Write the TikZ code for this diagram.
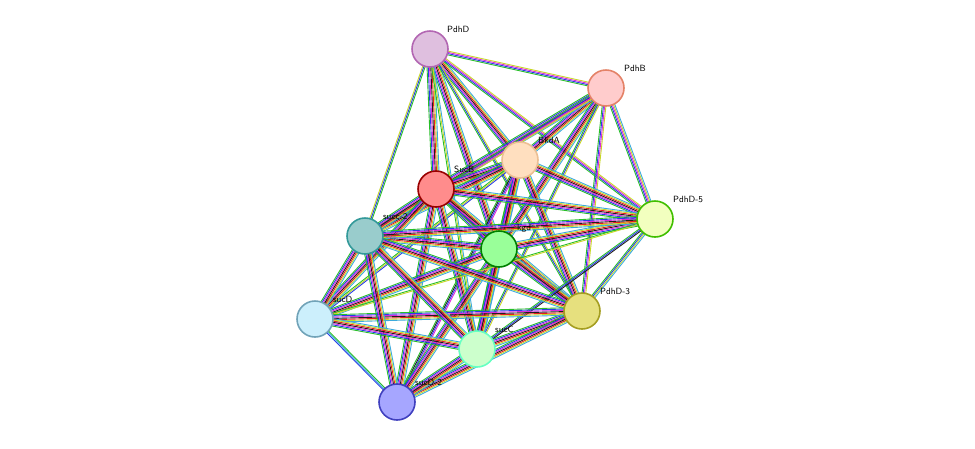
\documentclass[tikz,border=0pt]{standalone}
\usetikzlibrary{calc}
\begin{document}
\begin{tikzpicture}[x=1pt,y=-1pt,
  prot/.style={circle,draw,line width=1.6pt,minimum size=36pt,inner sep=0pt},
  lab/.style={font=\sffamily\fontsize{9}{10}\selectfont,anchor=south west,inner sep=1pt}]
\definecolor{eg}{RGB}{40,190,40}\definecolor{eb}{RGB}{40,60,230}\definecolor{em}{RGB}{220,40,220}
\definecolor{ek}{RGB}{30,30,30}\definecolor{er}{RGB}{230,30,30}\definecolor{ey}{RGB}{200,215,40}
\definecolor{ec}{RGB}{60,170,220}
\useasboundingbox (0,0) rectangle (975,448);
\foreach \n/\x/\y in {pdhd/430/49,pdhb/606/88,bkda/520/160,sucb/436/189,pd5/655/219,sc2/365/236,kgd/499/249,pd3/582/311,sucd/315/319,succ/477/349,sd2/397/402}
  \coordinate (\n) at (\x,\y);
\newcommand\bund[3]{%
  \edef\lst{#3}%
  \foreach \c [count=\i] in \lst {\xdef\nn{\i}}%
  \foreach \c [count=\i] in \lst {%
    \pgfmathsetmacro\o{(\i-(\nn+1)/2)*1.25}%
    \draw[\c,line width=0.9pt] ($(#1)!\o pt!90:(#2)$) -- ($(#2)!\o pt!-90:(#1)$);}}
\def\F{eg,eb,em,ek,er,ey,ec}
\def\M{eg,eb,em,ey}
% edges
\bund{pdhd}{pdhb}{\M}\bund{pdhd}{bkda}{\F}\bund{pdhd}{sucb}{\F}\bund{pdhd}{kgd}{\F}
\bund{pdhd}{sc2}{ey,eb,eg}\bund{pdhd}{pd5}{eg,eb,em,ey}\bund{pdhd}{pd3}{eg,eb,ey}\bund{pdhd}{succ}{eg,ey,ec}
\bund{pdhb}{bkda}{\F}\bund{pdhb}{sucb}{\F}\bund{pdhb}{kgd}{\F}\bund{pdhb}{pd5}{\M,ec}\bund{pdhb}{pd3}{eg,eb,em,ey}
\bund{pdhb}{sc2}{eg,eb,em,ey}\bund{pdhb}{succ}{eg,eb,ey}
\bund{bkda}{sucb}{\F}\bund{bkda}{kgd}{\F}\bund{bkda}{pd5}{\F}\bund{bkda}{pd3}{\F}\bund{bkda}{sc2}{\F}
\bund{bkda}{succ}{\F}\bund{bkda}{sucd}{eg,ey,eb}\bund{bkda}{sd2}{eg,ek,eb,em}
\bund{sucb}{kgd}{\F}\bund{sucb}{pd5}{\F}\bund{sucb}{pd3}{\F}\bund{sucb}{sc2}{\F}\bund{sucb}{succ}{\F}
\bund{sucb}{sucd}{\F}\bund{sucb}{sd2}{\F}
\bund{kgd}{pd5}{\F}\bund{kgd}{pd3}{\F}\bund{kgd}{sc2}{\F}\bund{kgd}{succ}{\F}\bund{kgd}{sucd}{\F}\bund{kgd}{sd2}{\F}
\bund{pd5}{pd3}{eg,eb,ey,ec}\bund{pd5}{sc2}{\F}\bund{pd5}{succ}{eg,eb,ek}\bund{pd5}{sucd}{eg,ey}
\bund{pd3}{sc2}{\F}\bund{pd3}{succ}{\F}\bund{pd3}{sucd}{\F}\bund{pd3}{sd2}{\F}
\bund{sc2}{sucd}{\F}\bund{sc2}{succ}{\F}\bund{sc2}{sd2}{\F}
\bund{sucd}{succ}{\F}\bund{sucd}{sd2}{eb,ec,eg}\bund{succ}{sd2}{\F}
% nodes
\node[prot,draw=violet!60,fill=violet!25] (PdhD) at (pdhd) {};
\node[prot,draw=red!40!brown!70,fill=red!20] (PdhB) at (pdhb) {};
\node[prot,draw=orange!40!brown!50,fill=orange!25] (BkdA) at (bkda) {};
\node[prot,draw=red!60!black,fill=red!45] (SucB) at (sucb) {};
\node[prot,draw=green!50!olive,fill=green!20!yellow!25] (PdhD5) at (pd5) {};
\node[prot,draw=teal!80,fill=teal!40] (succ2) at (sc2) {};
\node[prot,draw=green!50!black,fill=green!40] (Kgd) at (kgd) {};
\node[prot,draw=olive!80,fill=yellow!50!olive!45] (PdhD3) at (pd3) {};
\node[prot,draw=cyan!40!gray,fill=cyan!20] (SucD) at (sucd) {};
\node[prot,draw=green!40!cyan!60,fill=green!20] (SucC) at (succ) {};
\node[prot,draw=blue!50!gray,fill=blue!35] (SucD2) at (sd2) {};
\node[lab] at (446,34) {PdhD};
\node[lab] at (623,73) {PdhB};
\node[lab] at (537,145) {BkdA};
\node[lab] at (453,174) {SucB};
\node[lab] at (672,204) {PdhD-5};
\node[lab] at (382,221) {succ-2};
\node[lab] at (516,234) {kgd};
\node[lab] at (599,296) {PdhD-3};
\node[lab] at (332,304) {sucD};
\node[lab] at (494,334) {sucC};
\node[lab] at (414,387) {sucD-2};
\end{tikzpicture}
\end{document}
